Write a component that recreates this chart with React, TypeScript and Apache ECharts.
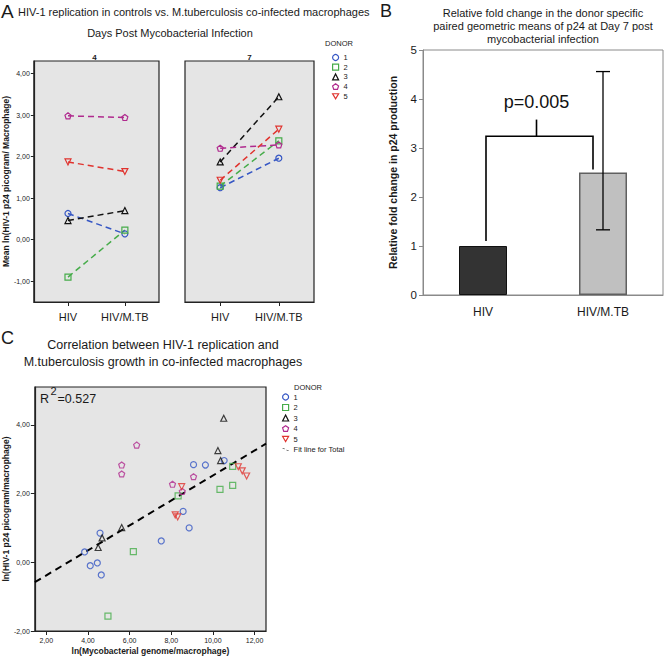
import React, { useEffect, useRef } from 'react';
import * as echarts from 'echarts';

const FONT = '"Liberation Sans", Arial, Helvetica, sans-serif';
const PENTAGON = 'path://M0,-10 L9.51,-3.09 L5.88,8.09 L-5.88,8.09 L-9.51,-3.09 Z';
const DOWN_TRI = 'path://M-10,-8 L10,-8 L0,9 Z';
const FIT_ICON = 'path://M0,0 L5,2 L5,3.4 L0,1.4 Z M9,4 L14,6 L14,7.4 L9,5.4 Z';

// ---------- Panel A ----------
const donors = ['1', '2', '3', '4', '5'];
const donorColors = ['#3556c4', '#46ac4a', '#111111', '#b02a8e', '#e0332e'];
const donorSymbols = ['circle', 'rect', 'triangle', PENTAGON, DOWN_TRI];
const conditions = ['HIV', 'HIV/M.TB'];
const day4HIV = [0.63, -0.9, 0.46, 2.98, 1.87];
const day4MTB = [0.14, 0.23, 0.7, 2.94, 1.64];
const day7HIV = [1.25, 1.29, 1.87, 2.2, 1.43];
const day7MTB = [1.96, 2.38, 3.44, 2.28, 2.66];
const aYTicks = [-1, 0, 1, 2, 3, 4];
const aXTicks = [0, 1];
const dayLabels = ['4', '7'];

// ---------- Panel B ----------
const foldCats = ['HIV', 'HIV/M.TB'];
const foldValues = [1, 2.5];
const foldErrLow = [1.33];
const foldErrHigh = [4.56];
const bracketLevels = [1.1, 3.24, 2.56, 3.58]; // left foot, bar, right foot, peak
const pValueLabel = 'p=0.005';
const bYTicks = [0, 1, 2, 3, 4, 5];

// ---------- Panel C ----------
const donor1Points = [[3.84, 0.3], [4.11, -0.1], [4.45, -0.02], [4.64, -0.37], [4.58, 0.85], [7.52, 0.62], [8.57, 1.48], [8.86, 1.0], [9.07, 2.84], [9.64, 2.83], [10.54, 2.96]];
const donor2Points = [[4.96, -1.57], [6.18, 0.31], [8.33, 1.93], [10.34, 2.12], [10.95, 2.79], [10.95, 2.24]];
const donor3Points = [[4.49, 0.43], [4.68, 0.71], [5.62, 1.01], [10.24, 3.25], [10.37, 2.96], [10.52, 4.19]];
const donor4Points = [[6.34, 3.41], [5.62, 2.83], [5.62, 2.57], [8.06, 2.27], [9.07, 2.49], [8.53, 2.06]];
const donor5Points = [[8.5, 2.2], [8.19, 1.38], [8.31, 1.32], [11.22, 2.78], [11.41, 2.66], [11.62, 2.51]];
const fitLine = [[1.45, -0.58], [12.55, 3.45]];
const cXTicks = [2, 4, 6, 8, 10, 12];
const cYTicks = [-2, 0, 2, 4];
const rSquaredValue = '=0.527';

const commaFmt = (v: number) => v.toFixed(2).replace('.', ',');

function hollow(i: number) {
  return { color: 'rgba(0,0,0,0)', borderColor: donorColors[i], borderWidth: 1.2 };
}

function buildOption() {
  const txt = '#1a1a1a';
  const aXAxis = (grid: number) => ({
    type: 'value', gridIndex: grid, min: -0.6, max: 1.6,
    axisLine: { show: true, onZero: false, lineStyle: { color: '#222', width: 1.2 } },
    axisTick: { show: true, customValues: aXTicks, length: 4, lineStyle: { color: '#222' } },
    axisLabel: { customValues: aXTicks, formatter: (v: number) => conditions[v], fontSize: 11, color: txt, fontFamily: FONT, margin: 9 },
    splitLine: { show: false },
  });
  const aYAxis = (grid: number, showLabels: boolean) => ({
    type: 'value', gridIndex: grid, min: -1.5, max: 4.3,
    name: showLabels ? 'Mean ln(HIV-1 p24 picogram/ Macrophage)' : '',
    nameLocation: 'middle', nameGap: 18,
    nameTextStyle: { fontSize: 8.5, fontWeight: 'bold', color: txt, fontFamily: FONT },
    axisLine: { show: showLabels, onZero: false, lineStyle: { color: '#222', width: 1.2 } },
    axisTick: { show: showLabels, customValues: aYTicks, length: 3, lineStyle: { color: '#222' } },
    axisLabel: { show: showLabels, customValues: aYTicks, formatter: commaFmt, fontSize: 7, color: txt, fontFamily: FONT, margin: 4 },
    splitLine: { show: false },
  });

  const series: any[] = [];
  donors.forEach((d, i) => {
    const base = {
      name: d, type: 'line', symbol: donorSymbols[i], symbolSize: 6,
      itemStyle: hollow(i),
      lineStyle: { color: donorColors[i], width: 1.5, type: [6, 4] },
      z: 3,
    };
    series.push({ ...base, xAxisIndex: 0, yAxisIndex: 0, data: [[0, day4HIV[i]], [1, day4MTB[i]]] });
    series.push({ ...base, xAxisIndex: 1, yAxisIndex: 1, data: [[0, day7HIV[i]], [1, day7MTB[i]]] });
  });

  // Panel B bars
  series.push({
    type: 'bar', name: 'fold', xAxisIndex: 2, yAxisIndex: 2, barWidth: '40%',
    data: foldValues.map((v, i) => ({
      value: v,
      itemStyle: i === 0
        ? { color: '#333333', borderColor: '#111', borderWidth: 1 }
        : { color: '#c0c0c0', borderColor: '#606060', borderWidth: 1.5 },
    })),
  });
  // error bar
  series.push({
    type: 'custom', name: 'err', xAxisIndex: 2, yAxisIndex: 2, z: 5,
    data: foldErrLow.map((lo, i) => [1, lo, foldErrHigh[i]]),
    encode: { x: 0, y: [1, 2] },
    renderItem: (params: any, api: any) => {
      const x = api.value(0);
      const pLo = api.coord([x, api.value(1)]);
      const pHi = api.coord([x, api.value(2)]);
      const cap = 7;
      const st = { stroke: '#000', lineWidth: 1.3 };
      return {
        type: 'group', children: [
          { type: 'line', shape: { x1: pLo[0], y1: pLo[1], x2: pHi[0], y2: pHi[1] }, style: st },
          { type: 'line', shape: { x1: pLo[0] - cap, y1: pLo[1], x2: pLo[0] + cap, y2: pLo[1] }, style: st },
          { type: 'line', shape: { x1: pHi[0] - cap, y1: pHi[1], x2: pHi[0] + cap, y2: pHi[1] }, style: st },
        ],
      };
    },
  });
  // significance bracket
  series.push({
    type: 'custom', name: 'bracket', xAxisIndex: 2, yAxisIndex: 2, z: 5,
    data: [[0, ...bracketLevels]],
    renderItem: (params: any, api: any) => {
      const footL = api.coord([0, api.value(1)]);
      const barL = api.coord([0, api.value(2)]);
      const footR = api.coord([1, api.value(3)]);
      const peak = api.coord([0, api.value(4)]);
      const xL = footL[0] + 3;
      const xR = footR[0] - 10;
      const xM = (xL + xR) / 2 - 3;
      const st = { stroke: '#000', lineWidth: 1.6, fill: 'none' };
      return {
        type: 'group', children: [
          { type: 'polyline', shape: { points: [[xL, footL[1]], [xL, barL[1]], [xR, barL[1]], [xR, footR[1]]] }, style: st },
          { type: 'line', shape: { x1: xM, y1: barL[1], x2: xM, y2: peak[1] }, style: st },
          { type: 'text', x: xM, y: peak[1] - 18, style: { text: pValueLabel, fontSize: 18, fontFamily: FONT, fill: '#111', align: 'center', verticalAlign: 'middle' } },
        ],
      };
    },
  });

  // Panel C scatter
  const cPoints = [donor1Points, donor2Points, donor3Points, donor4Points, donor5Points];
  donors.forEach((d, i) => {
    series.push({
      name: d, type: 'scatter', xAxisIndex: 3, yAxisIndex: 3,
      symbol: donorSymbols[i], symbolSize: 6, itemStyle: hollow(i), z: 4,
      data: cPoints[i],
    });
  });
  series.push({
    name: 'Fit line for Total', type: 'line', xAxisIndex: 3, yAxisIndex: 3,
    data: fitLine, symbol: 'none', z: 3,
    itemStyle: { color: '#000' },
    lineStyle: { color: '#000', width: 2, type: [7, 5] },
  });

  const legendStyle = { fontSize: 7.5, color: txt, fontFamily: FONT, lineHeight: 7 };
  const donorLegendData = donors.map((d, i) => ({ name: d, icon: donorSymbols[i], itemStyle: hollow(i) }));

  const text = (t: string, x: number, y: number, extra: any = {}) => ({
    type: 'text', x, y, silent: true,
    style: { text: t, fontFamily: FONT, fill: '#1a1a1a', fontSize: 11, verticalAlign: 'middle', align: 'left', ...extra },
  });

  return {
    animation: false,
    backgroundColor: '#ffffff',
    grid: [
      { left: 30, top: 61, width: 129, height: 241, show: true, backgroundColor: '#e5e5e5', borderColor: '#222', borderWidth: 1.2 },
      { left: 185, top: 61, width: 129, height: 241, show: true, backgroundColor: '#e5e5e5', borderColor: '#222', borderWidth: 1.2 },
      { left: 423, top: 50, width: 240, height: 245, show: true, backgroundColor: '#ffffff', borderColor: '#8a8a8a', borderWidth: 1 },
      { left: 32, top: 387, width: 234, height: 244, show: true, backgroundColor: '#e5e5e5', borderColor: '#222', borderWidth: 1.2 },
    ],
    xAxis: [
      aXAxis(0),
      aXAxis(1),
      {
        type: 'category', gridIndex: 2, data: foldCats, boundaryGap: true,
        axisLine: { lineStyle: { color: '#8a8a8a' } },
        axisTick: { length: 4, lineStyle: { color: '#8a8a8a' } },
        axisLabel: { fontSize: 12, color: txt, fontFamily: FONT, margin: 11 },
      },
      {
        type: 'value', gridIndex: 3, min: 1.45, max: 12.55,
        name: 'ln(Mycobacterial genome/macrophage)', nameLocation: 'middle', nameGap: 15,
        nameTextStyle: { fontSize: 8.5, fontWeight: 'bold', color: txt, fontFamily: FONT },
        axisLine: { onZero: false, lineStyle: { color: '#222', width: 1.2 } },
        axisTick: { customValues: cXTicks, length: 4, lineStyle: { color: '#222' } },
        axisLabel: { customValues: cXTicks, formatter: commaFmt, fontSize: 7, color: txt, fontFamily: FONT, margin: 6 },
        splitLine: { show: false },
      },
    ],
    yAxis: [
      aYAxis(0, true),
      aYAxis(1, false),
      {
        type: 'value', gridIndex: 2, min: 0, max: 5, interval: 1,
        name: 'Relative fold change in p24 production', nameLocation: 'middle', nameGap: 25,
        nameTextStyle: { fontSize: 10.5, fontWeight: 'bold', color: txt, fontFamily: FONT },
        axisLine: { show: true, onZero: false, lineStyle: { color: '#8a8a8a' } },
        axisTick: { show: true, length: 4, lineStyle: { color: '#8a8a8a' } },
        axisLabel: { customValues: bYTicks, fontSize: 11.5, color: txt, fontFamily: FONT, margin: 6 },
        splitLine: { show: false },
      },
      {
        type: 'value', gridIndex: 3, min: -2, max: 5.1,
        name: 'ln(HIV-1 p24 picogram/macrophage)', nameLocation: 'middle', nameGap: 20,
        nameTextStyle: { fontSize: 8.5, fontWeight: 'bold', color: txt, fontFamily: FONT },
        axisLine: { show: true, onZero: false, lineStyle: { color: '#222', width: 1.2 } },
        axisTick: { show: true, customValues: cYTicks, length: 4, lineStyle: { color: '#222' } },
        axisLabel: { customValues: cYTicks, formatter: commaFmt, fontSize: 7, color: txt, fontFamily: FONT, margin: 5 },
        splitLine: { show: false },
      },
    ],
    legend: [
      {
        left: 332, top: 53.5, orient: 'vertical', padding: 0, itemWidth: 6, itemHeight: 6, itemGap: 1.7,
        selectedMode: false, textStyle: legendStyle, data: donorLegendData,
      },
      {
        left: 282, top: 393, orient: 'vertical', padding: 0, itemWidth: 6, itemHeight: 6, itemGap: 2.5,
        selectedMode: false, textStyle: legendStyle,
        data: [...donorLegendData, { name: 'Fit line for Total', icon: FIT_ICON, itemStyle: { color: '#000', borderWidth: 0 } }],
      },
    ],
    graphic: [
      text('A', 1, 11, { fontSize: 19 }),
      text('HIV-1 replication in controls vs. M.tuberculosis co-infected macrophages', 18, 12, { fontSize: 11 }),
      text('Days Post Mycobacterial Infection', 170, 33, { fontSize: 11, align: 'center' }),
      text(dayLabels[0], 94.5, 57, { fontSize: 8, fontWeight: 'bold', align: 'center' }),
      text(dayLabels[1], 249.5, 57, { fontSize: 8, fontWeight: 'bold', align: 'center' }),
      text('DONOR', 325, 43, { fontSize: 7.5 }),
      text('B', 380, 11, { fontSize: 18 }),
      text('Relative fold change in the donor specific\npaired geometric means of p24 at Day 7 post\nmycobacterial infection', 543, 6.5, { fontSize: 11, align: 'center', verticalAlign: 'top', lineHeight: 13 }),
      text('C', 1, 338, { fontSize: 18 }),
      text('Correlation between HIV-1 replication and\nM.tuberculosis growth in co-infected macrophages', 163, 336.5, { fontSize: 12.5, align: 'center', verticalAlign: 'top', lineHeight: 17 }),
      text('DONOR', 294, 387, { fontSize: 7.5 }),
      text('R', 40, 399, { fontSize: 12.5 }),
      text('2', 50.5, 391, { fontSize: 11 }),
      text(rSquaredValue, 57.5, 399, { fontSize: 12.5 }),
    ],
    series,
  };
}

export default function App() {
  const ref = useRef<HTMLDivElement>(null);
  useEffect(() => {
    if (!ref.current) return;
    const chart = echarts.init(ref.current, undefined, { renderer: 'svg' });
    chart.setOption(buildOption() as any);
    return () => chart.dispose();
  }, []);
  return <div ref={ref} style={{ position: 'absolute', left: 0, top: 0, width: 664, height: 656 }} />;
}
